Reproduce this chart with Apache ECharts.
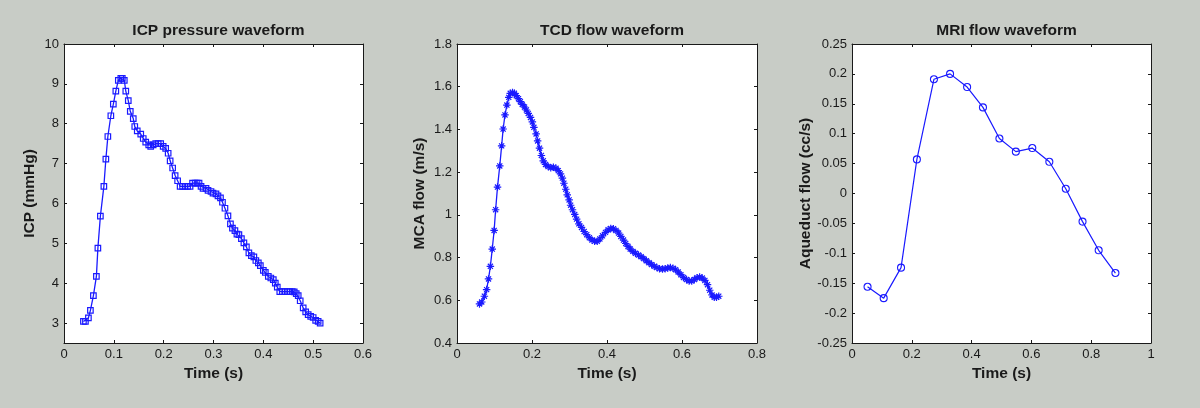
<!DOCTYPE html>
<html>
<head>
<meta charset="utf-8">
<script src="https://cdn.jsdelivr.net/npm/echarts@6/dist/echarts.min.js"></script>
<style>
html,body{margin:0;padding:0;background:#c8ccc6;}
#chart{width:1200px;height:408px;}
</style>
</head>
<body>
<div id="chart"></div>
<script>
// ---- Data ----
const icpTime = [0.039,0.043,0.049,0.053,0.059,0.065,0.068,0.073,0.080,0.084,0.088,0.094,0.099,0.104,0.109,0.114,0.117,0.121,0.124,0.129,0.133,0.139,0.142,0.147,0.154,0.159,0.164,0.170,0.174,0.179,0.184,0.189,0.194,0.199,0.204,0.209,0.213,0.218,0.223,0.228,0.233,0.238,0.243,0.248,0.253,0.258,0.263,0.267,0.271,0.275,0.279,0.285,0.289,0.295,0.299,0.305,0.309,0.314,0.318,0.323,0.329,0.334,0.338,0.343,0.347,0.351,0.356,0.361,0.366,0.371,0.376,0.381,0.385,0.390,0.394,0.400,0.404,0.410,0.415,0.420,0.424,0.428,0.433,0.438,0.443,0.448,0.453,0.458,0.462,0.466,0.470,0.474,0.480,0.485,0.490,0.495,0.500,0.505,0.510,0.514];
const icpValues = [3.04,3.04,3.13,3.32,3.69,4.17,4.88,5.68,6.43,7.11,7.68,8.20,8.49,8.82,9.09,9.14,9.14,9.09,8.82,8.58,8.31,8.13,7.93,7.82,7.74,7.63,7.54,7.47,7.43,7.47,7.50,7.50,7.50,7.43,7.38,7.26,7.07,6.89,6.70,6.57,6.43,6.43,6.43,6.43,6.43,6.51,6.51,6.51,6.51,6.43,6.38,6.38,6.33,6.30,6.26,6.24,6.19,6.14,6.03,5.88,5.69,5.49,5.38,5.32,5.23,5.22,5.12,5.01,4.91,4.76,4.69,4.66,4.57,4.51,4.44,4.32,4.27,4.17,4.13,4.09,4.00,3.90,3.79,3.79,3.79,3.79,3.79,3.79,3.78,3.74,3.69,3.56,3.38,3.28,3.21,3.17,3.14,3.07,3.04,3.00];

const tcdTime = [0.060,0.066,0.073,0.079,0.084,0.089,0.094,0.099,0.103,0.108,0.114,0.119,0.123,0.128,0.133,0.138,0.142,0.148,0.153,0.158,0.164,0.169,0.174,0.180,0.185,0.190,0.196,0.201,0.205,0.211,0.215,0.220,0.225,0.230,0.236,0.243,0.250,0.257,0.264,0.270,0.276,0.281,0.285,0.290,0.294,0.299,0.303,0.308,0.314,0.319,0.325,0.332,0.339,0.346,0.353,0.360,0.367,0.374,0.381,0.388,0.396,0.403,0.410,0.417,0.424,0.431,0.437,0.444,0.450,0.456,0.462,0.469,0.476,0.484,0.491,0.498,0.505,0.512,0.519,0.526,0.533,0.540,0.548,0.555,0.562,0.569,0.576,0.583,0.590,0.597,0.604,0.612,0.619,0.626,0.633,0.640,0.647,0.654,0.661,0.668,0.674,0.680,0.686,0.692,0.698];
const tcdValues = [0.583,0.592,0.619,0.650,0.700,0.759,0.840,0.927,1.024,1.130,1.229,1.323,1.402,1.468,1.514,1.550,1.569,1.573,1.569,1.558,1.544,1.530,1.517,1.505,1.491,1.475,1.456,1.435,1.410,1.379,1.346,1.312,1.278,1.253,1.236,1.226,1.221,1.223,1.218,1.207,1.192,1.172,1.148,1.120,1.094,1.070,1.045,1.024,1.002,0.980,0.958,0.941,0.922,0.907,0.893,0.882,0.876,0.876,0.887,0.902,0.918,0.930,0.936,0.935,0.927,0.915,0.899,0.882,0.866,0.852,0.840,0.829,0.820,0.812,0.804,0.795,0.785,0.776,0.767,0.759,0.753,0.748,0.746,0.748,0.751,0.753,0.750,0.743,0.732,0.720,0.707,0.697,0.690,0.690,0.697,0.706,0.709,0.704,0.693,0.673,0.647,0.625,0.614,0.614,0.619];

const mriTime = [0.052,0.106,0.164,0.217,0.274,0.328,0.385,0.438,0.493,0.548,0.603,0.660,0.715,0.771,0.825,0.881];
const mriValues = [-0.156,-0.175,-0.124,0.057,0.191,0.200,0.178,0.144,0.092,0.070,0.076,0.053,0.008,-0.047,-0.095,-0.133];

const titles = ['ICP pressure waveform', 'TCD flow waveform', 'MRI flow waveform'];
const xNames = ['Time (s)', 'Time (s)', 'Time (s)'];
const yNames = ['ICP (mmHg)', 'MCA flow (m/s)', 'Aqueduct flow (cc/s)'];
const icpYTicks = [3, 4, 5, 6, 7, 8, 9, 10];

// ---- Layout ----
const grids = [
  {left: 64, top: 44, width: 299, height: 299},
  {left: 457, top: 44, width: 300, height: 299},
  {left: 852, top: 44, width: 299, height: 299}
];
const xRanges = [[0, 0.6, 0.1], [0, 0.8, 0.2], [0, 1, 0.2]];
const yRanges = [[2.5, 10, 1], [0.4, 1.8, 0.2], [-0.25, 0.25, 0.05]];
const yNameGaps = [26, 29.5, 30.5];

const blue = '#1a1aff';
const ink = '#1a1a1a';
const fontFam = '"Liberation Sans", Arial, Helvetica, sans-serif';

function fmt(v) {
  return (Math.round(v * 1000) / 1000).toString();
}

const xAxes = [], yAxes = [], titleArr = [];
for (let i = 0; i < 3; i++) {
  const [xmin, xmax, xint] = xRanges[i];
  const [ymin, ymax, yint] = yRanges[i];
  const g = grids[i];
  titleArr.push({
    text: titles[i], left: g.left + g.width / 2, top: 18, textAlign: 'center',
    textStyle: {fontFamily: fontFam, fontSize: 15.5, fontWeight: 'bold', color: ink}
  });
  const tick = {show: true, inside: true, length: 3, lineStyle: {color: ink, width: 1}};
  const line = {show: true, onZero: false, lineStyle: {color: ink, width: 1}};
  xAxes.push({
    type: 'value', gridIndex: i, position: 'bottom', min: xmin, max: xmax, interval: xint,
    name: xNames[i], nameLocation: 'middle', nameGap: 21,
    nameTextStyle: {fontFamily: fontFam, fontSize: 15.5, fontWeight: 'bold', color: ink},
    axisLine: line, axisTick: tick, splitLine: {show: false},
    axisLabel: {fontFamily: fontFam, fontSize: 13, color: ink, margin: 5, formatter: fmt, showMinLabel: true, showMaxLabel: true}
  });
  xAxes.push({
    type: 'value', gridIndex: i, position: 'top', min: xmin, max: xmax, interval: xint,
    axisLine: line, axisTick: tick, splitLine: {show: false}, axisLabel: {show: false}
  });
  const yLabel = {fontFamily: fontFam, fontSize: 13, color: ink, margin: 5, formatter: fmt, showMinLabel: true, showMaxLabel: true};
  const yTick = Object.assign({}, tick);
  if (i === 0) {
    yLabel.customValues = icpYTicks;
    yTick.customValues = icpYTicks;
  }
  yAxes.push({
    type: 'value', gridIndex: i, position: 'left', min: ymin, max: ymax, interval: yint,
    name: yNames[i], nameLocation: 'middle', nameGap: yNameGaps[i], nameRotate: 90,
    nameTextStyle: {fontFamily: fontFam, fontSize: 15.5, fontWeight: 'bold', color: ink},
    axisLine: line, axisTick: yTick, splitLine: {show: false}, axisLabel: yLabel
  });
  const yTick2 = Object.assign({}, tick);
  if (i === 0) yTick2.customValues = icpYTicks;
  yAxes.push({
    type: 'value', gridIndex: i, position: 'right', min: ymin, max: ymax, interval: yint,
    axisLine: line, axisTick: yTick2, splitLine: {show: false}, axisLabel: {show: false}
  });
}

function pairs(xs, ys) { return xs.map((x, k) => [x, ys[k]]); }

const asterisk = 'path://M0,5L10,5M5,0L5,10M1.6,1.6L8.4,8.4M8.4,1.6L1.6,8.4';

const series = [
  {
    type: 'line', xAxisIndex: 0, yAxisIndex: 0, data: pairs(icpTime, icpValues),
    symbol: 'rect', symbolSize: 5.5,
    lineStyle: {color: blue, width: 1.3},
    itemStyle: {color: 'rgba(0,0,0,0)', borderColor: blue, borderWidth: 1.2}
  },
  {
    type: 'line', xAxisIndex: 2, yAxisIndex: 2, data: pairs(tcdTime, tcdValues),
    symbol: asterisk, symbolSize: 7.5,
    lineStyle: {color: blue, width: 1.3},
    itemStyle: {color: 'rgba(0,0,0,0)', borderColor: blue, borderWidth: 1.2}
  },
  {
    type: 'line', xAxisIndex: 4, yAxisIndex: 4, data: pairs(mriTime, mriValues),
    symbol: 'circle', symbolSize: 7,
    lineStyle: {color: blue, width: 1.2},
    itemStyle: {color: 'rgba(0,0,0,0)', borderColor: blue, borderWidth: 1.1}
  }
];

const chart = echarts.init(document.getElementById('chart'), null, {renderer: 'canvas'});
chart.setOption({
  backgroundColor: '#c8ccc6',
  animation: false,
  title: titleArr,
  grid: grids.map(g => Object.assign({show: true, backgroundColor: '#ffffff', borderWidth: 0, containLabel: false}, g)),
  xAxis: xAxes,
  yAxis: yAxes,
  series: series
});
</script>
</body>
</html>
